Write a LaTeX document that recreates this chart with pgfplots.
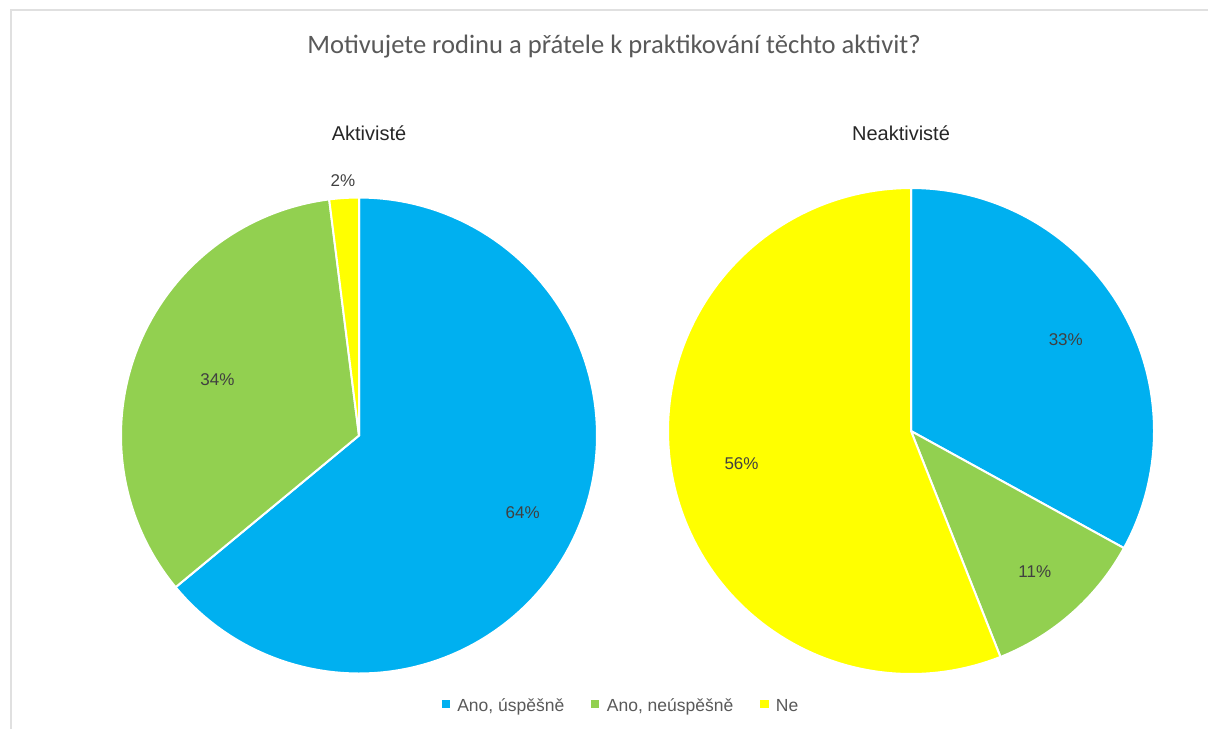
\documentclass[border=0pt]{standalone}
\usepackage{pgfplots}
\pgfplotsset{compat=1.18}
\usepackage{fontspec}
\setmainfont{Liberation Sans}
\newfontfamily\titlefont{Carlito}
\definecolor{cblue}{HTML}{00B0F0}
\definecolor{cgreen}{HTML}{92D050}
\definecolor{cyellow}{HTML}{FFFF00}
\definecolor{ttext}{HTML}{595959}
\definecolor{ltext}{HTML}{404040}
\definecolor{frame}{HTML}{E0E0E0}
% slice: cx, cy, r, angle1, angle2, colour  (pixel coordinates, y downwards)
\newcommand{\slice}[6]{%
  \addplot[fill=#6, draw=white, line width=1pt, domain=#4:#5, samples=120, forget plot]
    ({#1+#3*cos(x)},{#2-#3*sin(x)}) -- (axis cs:#1,#2) -- cycle;}
\newcommand{\plabel}[6]{% cx, cy, r, mid angle, factor, text
  \node[font=\fontsize{8.5}{10}\selectfont, text=ltext] at (axis cs:{#1+#5*#3*cos(#4)},{#2-#5*#3*sin(#4)}) {#6};}
\begin{document}
\begin{tikzpicture}
% data (percent)
\pgfmathsetmacro{\LA}{64}\pgfmathsetmacro{\LB}{34}\pgfmathsetmacro{\LC}{2}
\pgfmathsetmacro{\RA}{33}\pgfmathsetmacro{\RB}{11}\pgfmathsetmacro{\RC}{56}
% angles (start at 12 o'clock, clockwise)
\pgfmathsetmacro{\La}{90-3.6*\LA}\pgfmathsetmacro{\Lb}{\La-3.6*\LB}\pgfmathsetmacro{\Lc}{\Lb-3.6*\LC}
\pgfmathsetmacro{\Ra}{90-3.6*\RA}\pgfmathsetmacro{\Rb}{\Ra-3.6*\RB}\pgfmathsetmacro{\Rc}{\Rb-3.6*\RC}
\begin{axis}[
  width=604pt, height=364.5pt, scale only axis,
  xmin=0, xmax=1208, ymin=0, ymax=729, y dir=reverse,
  hide axis, clip=false,
  legend columns=3,
  legend style={at={(axis cs:622,707)}, anchor=center, draw=none, fill=none,
    font=\fontsize{8.75}{10}\selectfont, text=ttext, inner sep=0pt,
    /tikz/every even column/.append style={column sep=11.5pt},
    /tikz/every odd column/.append style={column sep=1.8pt}},
  legend image code/.code={\fill[#1] (0pt,-0.2pt) rectangle (3.6pt,3.4pt);},
]
\draw[frame, line width=1pt] (axis cs:11,729) -- (axis cs:11,10) -- (axis cs:1208,10);
% left pie
\slice{359}{435.5}{238}{\La}{90}{cblue}
\slice{359}{435.5}{238}{\Lb}{\La}{cgreen}
\slice{359}{435.5}{238}{\Lc}{\Lb}{cyellow}
% right pie
\slice{911}{431}{243}{\Ra}{90}{cblue}
\slice{911}{431}{243}{\Rb}{\Ra}{cgreen}
\slice{911}{431}{243}{\Rc}{\Rb}{cyellow}
\addlegendimage{cblue}\addlegendentry{Ano, úspěšně}
\addlegendimage{cgreen}\addlegendentry{Ano, neúspěšně}
\addlegendimage{cyellow}\addlegendentry{Ne}
% labels
\pgfmathsetmacro{\mLA}{(90+\La)/2}\pgfmathsetmacro{\mLB}{(\La+\Lb)/2}\pgfmathsetmacro{\mLC}{(\Lb+\Lc)/2}
\pgfmathsetmacro{\mRA}{(90+\Ra)/2}\pgfmathsetmacro{\mRB}{(\Ra+\Rb)/2}\pgfmathsetmacro{\mRC}{(\Rb+\Rc)/2}
\plabel{359}{435.5}{238}{\mLA}{0.76}{64\%}
\plabel{359}{435.5}{238}{\mLB}{0.64}{34\%}
\plabel{359}{435.5}{238}{\mLC}{1.075}{2\%}
\plabel{911}{431}{243}{\mRA}{0.74}{33\%}
\plabel{911}{431}{243}{\mRB}{0.77}{11\%}
\plabel{911}{431}{243}{\mRC}{0.71}{56\%}
% titles
\node[font=\titlefont\fontsize{13.3}{15}\selectfont, text=ttext] at (axis cs:614,47) {Motivujete rodinu a přátele k praktikování těchto aktivit?};
\node[font=\fontsize{10}{12}\selectfont, text=black!85] at (axis cs:369,133) {Aktivisté};
\node[font=\fontsize{10}{12}\selectfont, text=black!85] at (axis cs:901,133) {Neaktivisté};
\end{axis}
\pgfresetboundingbox
\path[use as bounding box] (current axis.south west) rectangle (current axis.north east);
\end{tikzpicture}
\end{document}
